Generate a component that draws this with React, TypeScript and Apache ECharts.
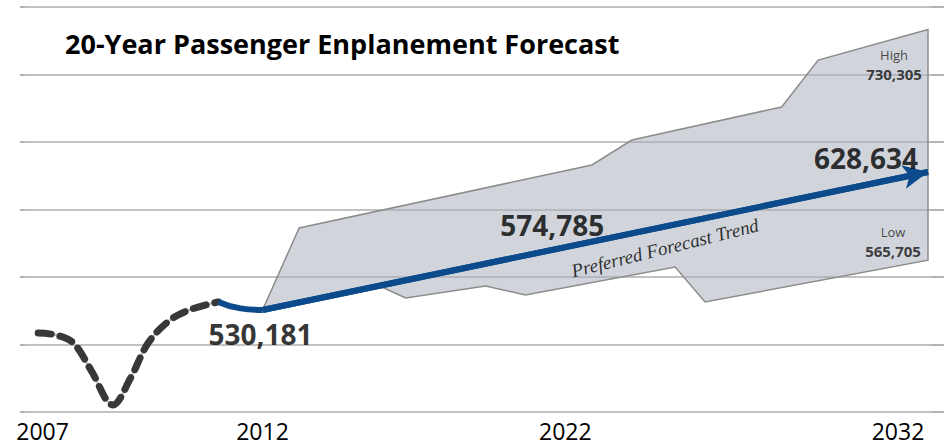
import { useEffect, useRef } from "react";
import * as echarts from "echarts";

// ---- data ----
const TITLE = "20-Year Passenger Enplanement Forecast";

// historical (dashed) – years on the history axis
const histYears = [2006.9, 2007.3, 2007.7, 2008.1, 2008.6, 2009.0, 2009.4, 2009.9, 2010.4, 2011.0];
const histValues = [513700, 512300, 506600, 487300, 462400, 481600, 506600, 523000, 530900, 535900];

// short actual segment joining history to the forecast base year
const bridgeYears = [2011.0, 2011.5, 2012.0];
const bridgeValues = [535900, 531300, 530181];

// preferred forecast trend
const trendYears = [2012, 2032];
const trendValues = [530181, 628634];

// forecast range (high / low envelope)
const highYears = [2012, 2013.1, 2021.9, 2023.1, 2027.6, 2028.7, 2032];
const highValues = [530181, 588700, 633600, 651400, 675000, 708500, 730305];
const lowYears = [2012, 2015.5, 2016.3, 2018.7, 2019.9, 2024.4, 2025.3, 2032];
const lowValues = [530181, 547400, 538700, 547300, 540900, 560800, 535900, 565705];

// labelled forecast values
const labelYears = [2012, 2022, 2032];
const labelValues = [530181, 574785, 628634];

// axis tick labels
const histTickLabels = [2007, 2012];
const forecastTickLabels = [2022, 2032];

const trendText = "Preferred Forecast Trend";
const trendTextAnchor = [2024, 589300];

const FONT = "Open Sans";
const BLUE = "#0b4a8b";

const fmt = (v: number) => v.toLocaleString("en-US");

export default function App() {
  const ref = useRef<HTMLDivElement>(null);

  useEffect(() => {
    document.body.style.margin = "0";
    if (!ref.current) return;
    const chart = echarts.init(ref.current, undefined, { renderer: "svg" });

    const labelOffsets = [
      [-2, 24],
      [-43, -22],
      [-62, -14],
    ];

    const option: any = {
      animation: false,
      backgroundColor: "#ffffff",
      title: {
        text: TITLE,
        left: 60,
        top: 25,
        textStyle: { fontFamily: FONT, fontSize: 27, fontWeight: "bold", color: "#000" },
      },
      grid: { left: 25, right: 17, top: 7, bottom: 34, containLabel: false, outerBoundsMode: "none" },
      xAxis: [
        {
          type: "value",
          min: 2006.6,
          max: 2027.2,
          position: "bottom",
          axisLine: { show: false },
          axisTick: { show: false },
          splitLine: { show: false },
          axisLabel: {
            customValues: histTickLabels,
            formatter: (v: number) => String(v),
            fontFamily: FONT,
            fontSize: 23,
            lineHeight: 26,
            color: "#000",
            margin: 6,
          },
        },
        {
          type: "value",
          min: 2004.86,
          max: 2032.09,
          position: "bottom",
          axisLine: { show: false },
          axisTick: { show: false },
          splitLine: { show: false },
          axisLabel: {
            customValues: forecastTickLabels,
            formatter: (v: number) => `{a|${v}}`,
            rich: {
              a: { fontFamily: FONT, fontSize: 23, lineHeight: 26, color: "#000", padding: [0, 60, 0, 0] },
            },
            margin: 6,
          },
        },
      ],
      yAxis: [
        { type: "value", min: 457370, max: 746340, show: false },
        {
          type: "value",
          min: 0,
          max: 6,
          interval: 1,
          position: "left",
          axisLine: { show: false },
          axisLabel: { show: false },
          axisTick: { show: true, length: 5, lineStyle: { color: "#9a9a9a", width: 1.5 } },
          splitLine: { show: true, lineStyle: { color: "#c2c2c2", width: 2 } },
        },
        {
          type: "value",
          min: 0,
          max: 6,
          interval: 1,
          position: "right",
          axisLine: { show: false },
          axisLabel: { show: false },
          axisTick: { show: true, length: 13, lineStyle: { color: "#9a9a9a", width: 1.5 } },
          splitLine: { show: false },
        },
      ],
      series: [
        {
          type: "custom",
          name: "range",
          xAxisIndex: 1,
          yAxisIndex: 0,
          z: 1,
          silent: true,
          data: [[highYears[0], highValues[0]]],
          renderItem: (_params: any, api: any) => {
            const pts: number[][] = [];
            highYears.forEach((yr, i) => pts.push(api.coord([yr, highValues[i]])));
            for (let i = lowYears.length - 1; i >= 0; i--) pts.push(api.coord([lowYears[i], lowValues[i]]));
            return {
              type: "polygon",
              shape: { points: pts },
              style: { fill: "rgba(172,178,190,0.55)", stroke: "#8c8c8c", lineWidth: 1.5 },
            };
          },
        },
        {
          type: "line",
          name: "history-shade",
          xAxisIndex: 0,
          yAxisIndex: 0,
          z: 2,
          smooth: 0.35,
          showSymbol: false,
          data: histYears.map((y, i) => [y, histValues[i]]),
          lineStyle: { color: "#bdbdbd", width: 2.5 },
        },
        {
          type: "line",
          name: "history",
          xAxisIndex: 0,
          yAxisIndex: 0,
          z: 3,
          smooth: 0.35,
          showSymbol: false,
          data: histYears.map((y, i) => [y, histValues[i]]),
          lineStyle: { color: "#383838", width: 7, type: [13, 9], cap: "round" },
        },
        {
          type: "line",
          name: "bridge",
          xAxisIndex: 0,
          yAxisIndex: 0,
          z: 4,
          smooth: 0.5,
          showSymbol: false,
          data: bridgeYears.map((y, i) => [y, bridgeValues[i]]),
          lineStyle: { color: BLUE, width: 6 },
        },
        {
          type: "line",
          name: "trend",
          xAxisIndex: 1,
          yAxisIndex: 0,
          z: 4,
          showSymbol: false,
          itemStyle: { color: BLUE },
          data: trendYears.map((y, i) => [y, trendValues[i]]),
          lineStyle: { color: BLUE, width: 6 },
          markLine: {
            silent: true,
            symbol: ["none", "arrow"],
            symbolSize: [18, 25],
            itemStyle: { color: BLUE },
            label: { show: false },
            lineStyle: { color: BLUE, width: 6, type: "solid" },
            data: [
              [
                { coord: [trendYears[0], trendValues[0]] },
                { coord: [trendYears[trendYears.length - 1], trendValues[trendValues.length - 1]] },
              ],
            ],
          },
        },
        {
          type: "scatter",
          name: "labels",
          xAxisIndex: 1,
          yAxisIndex: 0,
          z: 6,
          silent: true,
          symbolSize: 0,
          data: [
            ...labelYears.map((y, i) => ({
              value: [y, labelValues[i]],
              label: {
                show: true,
                position: "inside",
                offset: labelOffsets[i],
                formatter: fmt(labelValues[i]),
                fontFamily: FONT,
                fontSize: 28,
                fontWeight: "bold",
                color: "#000",
              },
            })),
            {
              value: [highYears[highYears.length - 1], highValues[highValues.length - 1]],
              label: {
                show: true,
                position: "inside",
                offset: [-34, 35],
                formatter: `{a|High}\n{b|${fmt(highValues[highValues.length - 1])}}`,
                rich: {
                  a: { fontFamily: FONT, fontSize: 13, color: "#222", lineHeight: 19, align: "center" },
                  b: { fontFamily: FONT, fontSize: 15, fontWeight: "bold", color: "#111", lineHeight: 19, align: "center" },
                },
              },
            },
            {
              value: [lowYears[lowYears.length - 1], lowValues[lowValues.length - 1]],
              label: {
                show: true,
                position: "inside",
                offset: [-35, -19],
                formatter: `{a|Low}\n{b|${fmt(lowValues[lowValues.length - 1])}}`,
                rich: {
                  a: { fontFamily: FONT, fontSize: 13, color: "#222", lineHeight: 19, align: "center" },
                  b: { fontFamily: FONT, fontSize: 15, fontWeight: "bold", color: "#111", lineHeight: 19, align: "center" },
                },
              },
            },
            {
              value: trendTextAnchor,
              label: {
                show: true,
                position: "inside",
                offset: [-2, 21],
                rotate: 14,
                formatter: trendText,
                fontFamily: "Liberation Serif",
                fontStyle: "italic",
                fontSize: 19,
                color: "#000",
              },
            },
          ],
        },
      ],
    };

    chart.setOption(option);
    return () => chart.dispose();
  }, []);

  return <div ref={ref} style={{ width: 948, height: 446 }} />;
}
